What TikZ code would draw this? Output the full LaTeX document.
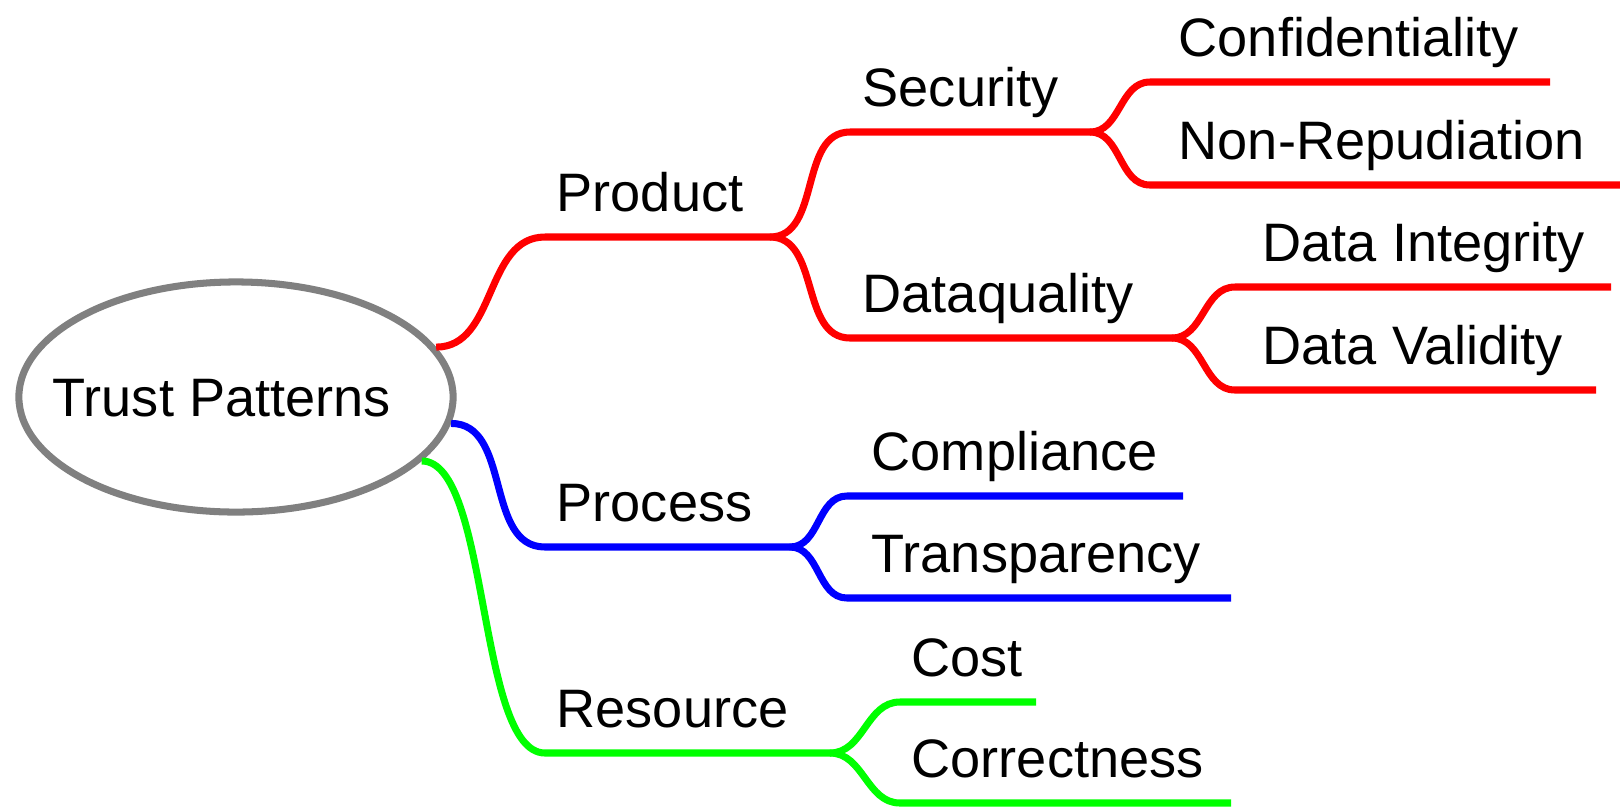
\documentclass[tikz,border=0pt]{standalone}
\usepackage{fontspec}
\setmainfont{Liberation Sans}
\usetikzlibrary{shapes.geometric}

\definecolor{mmred}{RGB}{255,0,0}
\definecolor{mmblue}{RGB}{0,0,255}
\definecolor{mmgreen}{RGB}{0,255,0}
\definecolor{mmgray}{RGB}{128,128,128}

\begin{document}
\begin{tikzpicture}[x=0.01cm,y=-0.01cm,
  edge/.style={line width=2pt},
  lbl/.style={font=\fontsize{15.4}{18}\selectfont, inner sep=0pt, anchor=base west}]
\useasboundingbox (0,0) rectangle (1620,808);

% Central topic
\node[ellipse, draw=mmgray, line width=2pt, minimum width=4.34cm, minimum height=2.30cm] (trust) at (236,397) {};
\node[lbl] (trusttxt) at (52,416) {Trust Patterns};

% Branches: parent/name/text/line start x/text x/line end x/line y/colour/looseness
\foreach \from/\nm/\txt/\sx/\tx/\ex/\y/\col/\lo in {
  trust.14/prod/Product/545/556/770/237/mmred/1,
  trust.-7/proc/Process/545/556/790/547/mmblue/1,
  trust.-19/res/Resource/545/556/830/753/mmgreen/0.55,
  prod-e/sec/Security/850/862/1090/132/mmred/1,
  prod-e/dq/Dataquality/850/862/1172/338/mmred/1,
  proc-e/comp/Compliance/847/871/1183/496/mmblue/1,
  proc-e/transp/Transparency/847/871/1231/598/mmblue/1,
  res-e/cost/Cost/900/911/1036/702/mmgreen/1,
  res-e/corr/Correctness/900/911/1231/803/mmgreen/1,
  sec-e/conf/Confidentiality/1150/1178/1550/82/mmred/1,
  sec-e/nonrep/Non-Repudiation/1150/1178/1620/185/mmred/1,
  dq-e/dint/Data Integrity/1235/1262/1611/287/mmred/1,
  dq-e/dval/Data Validity/1235/1262/1596/390/mmred/1} {
  \coordinate (\nm-s) at (\sx,\y);
  \coordinate (\nm-e) at (\ex,\y);
  \node[lbl] (\nm) at (\tx,\y-26) {\txt};
  \draw[edge, \col] (\from) to[out=0,in=180,looseness=\lo] (\nm-s) -- (\nm-e);
}
\end{tikzpicture}
\end{document}
